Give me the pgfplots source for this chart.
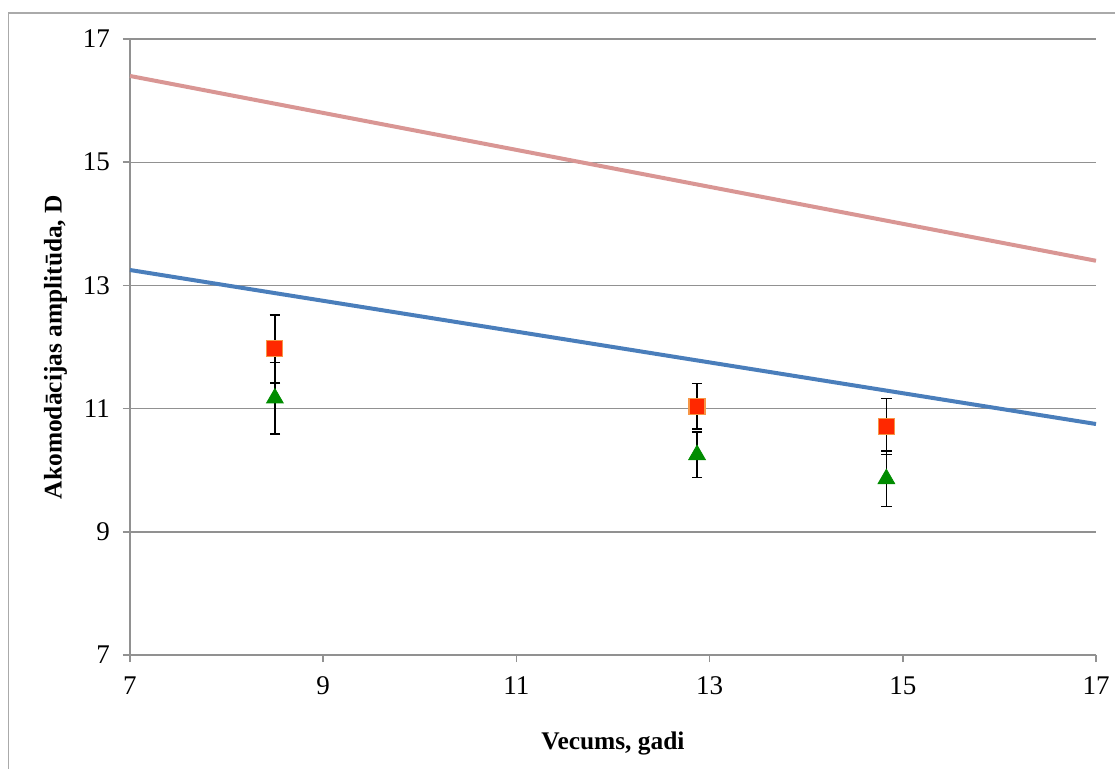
\documentclass[border=0pt]{standalone}
\usepackage{fontspec}
\setmainfont{Liberation Serif}
\usepackage{pgfplots}
\pgfplotsset{compat=1.18}
\definecolor{pinkline}{RGB}{217,150,148}
\definecolor{blueline}{RGB}{74,126,187}
\definecolor{gridgray}{RGB}{145,145,145}
\definecolor{framegray}{RGB}{170,170,170}
\definecolor{sqred}{RGB}{255,40,0}
\definecolor{sqedge}{RGB}{247,150,70}
\definecolor{trigreen}{RGB}{0,140,0}
\pgfplotstableread{
x y e
8.5 11.97 0.55
12.87 11.04 0.37
14.83 10.71 0.455
}\redpts
\pgfplotstableread{
x y e
8.5 11.17 0.58
12.87 10.25 0.37
14.83 9.86 0.45
}\greenpts
\begin{document}
\begin{tikzpicture}
\useasboundingbox (-65pt,-56.5pt) rectangle (492.5pt,327.5pt);
\draw[color=framegray, line width=0.8pt] (-60.75pt,-70pt) -- (-60.75pt,321pt) -- (510pt,321pt);
\begin{axis}[at={(0,0)}, anchor=south west, scale only axis,
  width=483pt, height=308pt,
  xmin=7, xmax=17, ymin=7, ymax=17,
  xtick={7,9,...,17}, ytick={7,9,...,17},
  axis x line*=bottom, axis y line*=left,
  axis line style={gridgray, line width=0.8pt, -},
  tick align=outside, major tick length=3.5pt,
  tick style={gridgray, line width=0.8pt},
  ymajorgrids, grid style={gridgray, line width=0.7pt},
  /pgf/number format/assume math mode=true,
  ticklabel style={font=\fontsize{13.5}{16}\selectfont},
  xticklabel style={yshift=-4pt},
  yticklabel style={xshift=-3pt},
  xlabel={\textbf{Vecums, gadi}},
  ylabel={\textbf{Akomodācijas amplitūda, D}},
  label style={font=\fontsize{12.7}{15}\selectfont},
  xlabel style={at={(axis description cs:0.5,-0.143)}, anchor=center},
  ylabel style={at={(axis description cs:-0.077,0.5)}, anchor=center},
  clip=false,
]
\addplot[pinkline, line width=2pt] coordinates {(7,16.4) (17,13.4)};
\addplot[blueline, line width=2pt] coordinates {(7,13.25) (17,10.75)};
\addplot[only marks, mark=square*, mark size=4pt,
  mark options={fill=sqred, draw=sqedge, line width=0.6pt},
  error bars/.cd, y dir=both, y explicit,
  error bar style={black, line width=0.8pt},
  error mark options={rotate=90, black, mark size=2.6pt, line width=0.8pt}]
  table[x=x, y=y, y error=e] {\redpts};
\addplot[only marks, mark=triangle*, mark size=4.8pt,
  mark options={fill=trigreen, draw=trigreen},
  error bars/.cd, y dir=both, y explicit,
  error bar style={black, line width=0.8pt},
  error mark options={rotate=90, black, mark size=2.6pt, line width=0.8pt}]
  table[x=x, y=y, y error=e] {\greenpts};
\end{axis}
\end{tikzpicture}
\end{document}
